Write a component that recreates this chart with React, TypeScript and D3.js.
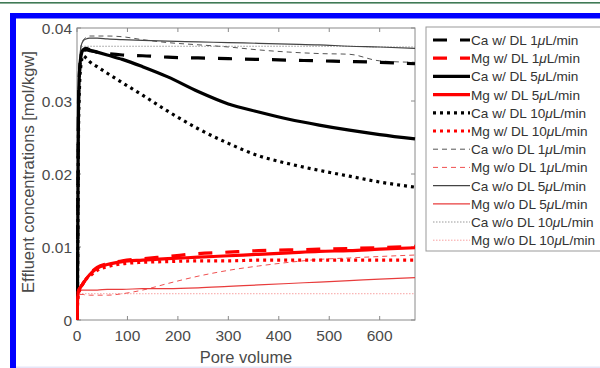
import React from "react";
import * as d3 from "d3";

const poreVolume = [0, 1, 2, 3, 5, 8, 12, 18, 25, 40, 60, 90, 130, 180, 240, 300, 360, 420, 480, 540, 600, 670];

const caDL1 = [0, 0.006, 0.02, 0.03, 0.034, 0.0362, 0.0368, 0.037, 0.0369, 0.0367, 0.0365, 0.0363, 0.0362, 0.036, 0.0359, 0.0358, 0.0357, 0.0356, 0.0355, 0.0354, 0.0353, 0.0351];
const mgDL1 = [0, 0.0025, 0.0035, 0.004, 0.0043, 0.0046, 0.005, 0.0057, 0.0063, 0.0072, 0.0077, 0.0081, 0.0084, 0.0087, 0.0091, 0.0093, 0.0095, 0.0096, 0.0097, 0.0098, 0.0099, 0.0101];
const caDL5 = [0, 0.005, 0.018, 0.029, 0.034, 0.0362, 0.037, 0.0372, 0.037, 0.0367, 0.0363, 0.0357, 0.0347, 0.0333, 0.0313, 0.0296, 0.0285, 0.0275, 0.0267, 0.026, 0.0254, 0.0248];
const mgDL5 = [0, 0.0025, 0.0035, 0.004, 0.0043, 0.0046, 0.005, 0.0056, 0.0062, 0.0071, 0.0076, 0.008, 0.0082, 0.0084, 0.0086, 0.0088, 0.009, 0.0092, 0.0094, 0.0095, 0.0097, 0.0099];
const caDL10 = [0, 0.004, 0.016, 0.026, 0.032, 0.035, 0.0362, 0.0359, 0.0354, 0.0347, 0.0338, 0.0325, 0.0308, 0.0286, 0.0262, 0.0242, 0.0225, 0.0214, 0.0205, 0.0197, 0.0189, 0.0182];
const mgDL10 = [0, 0.002, 0.003, 0.0035, 0.004, 0.0045, 0.005, 0.0056, 0.006, 0.0068, 0.0073, 0.0077, 0.0079, 0.008, 0.0081, 0.0081, 0.0082, 0.0082, 0.0082, 0.0082, 0.0082, 0.0082];
const caNoDL1 = [0, 0.006, 0.02, 0.03, 0.035, 0.0375, 0.0383, 0.0387, 0.0389, 0.0389, 0.0389, 0.0388, 0.0384, 0.038, 0.0377, 0.0374, 0.037, 0.0367, 0.0365, 0.0364, 0.0355, 0.0353];
const mgNoDL1 = [0, 0.003, 0.0034, 0.0035, 0.0035, 0.0035, 0.0035, 0.0034, 0.0034, 0.0034, 0.0034, 0.0036, 0.0041, 0.005, 0.006, 0.0068, 0.0074, 0.0079, 0.0083, 0.0085, 0.0087, 0.0089];
const caNoDL5 = [0, 0.006, 0.02, 0.03, 0.035, 0.0375, 0.0382, 0.0385, 0.0386, 0.0386, 0.0385, 0.0384, 0.0383, 0.0382, 0.0381, 0.038, 0.0379, 0.0378, 0.0377, 0.0375, 0.0374, 0.0372];
const mgNoDL5 = [0, 0.003, 0.0038, 0.004, 0.0041, 0.0041, 0.0041, 0.0041, 0.0041, 0.0041, 0.0042, 0.0042, 0.0043, 0.0043, 0.0044, 0.0046, 0.0048, 0.005, 0.0052, 0.0054, 0.0056, 0.0058];
const caNoDL10 = [0, 0.006, 0.02, 0.03, 0.035, 0.0372, 0.0375, 0.0375, 0.0375, 0.0375, 0.0375, 0.0375, 0.0375, 0.0375, 0.0375, 0.0375, 0.0375, 0.0375, 0.0375, 0.0375, 0.0374, 0.0374];
const mgNoDL10 = [0, 0.003, 0.0035, 0.0036, 0.0036, 0.0036, 0.0036, 0.0036, 0.0036, 0.0036, 0.0036, 0.0036, 0.0036, 0.0036, 0.0036, 0.0036, 0.0036, 0.0036, 0.0036, 0.0036, 0.0036, 0.0036];

const seriesNames = [
  "Ca w/ DL 1", "Mg w/ DL 1", "Ca w/ DL 5", "Mg w/ DL 5", "Ca w/ DL 10", "Mg w/ DL 10",
  "Ca w/o DL 1", "Mg w/o DL 1", "Ca w/o DL 5", "Mg w/o DL 5", "Ca w/o DL 10", "Mg w/o DL 10",
];
const seriesValues = [caDL1, mgDL1, caDL5, mgDL5, caDL10, mgDL10, caNoDL1, mgNoDL1, caNoDL5, mgNoDL5, caNoDL10, mgNoDL10];

const xTicks = [0, 100, 200, 300, 400, 500, 600];
const yTicks = [0, 0.01, 0.02, 0.03, 0.04];
const yTickLabels = ["0", "0.01", "0.02", "0.03", "0.04"];

type Style = { color: string; width: number; dash: string | null };
const styles: Style[] = [
  { color: "#000", width: 3.2, dash: "14 13" },
  { color: "#ff0000", width: 3.2, dash: "14 13" },
  { color: "#000", width: 3.2, dash: null },
  { color: "#ff0000", width: 3.2, dash: null },
  { color: "#000", width: 3.2, dash: "3 4" },
  { color: "#ff0000", width: 3.2, dash: "3 4" },
  { color: "#555", width: 1, dash: "5 4" },
  { color: "#f05050", width: 1, dash: "5 4" },
  { color: "#444", width: 1.2, dash: null },
  { color: "#e83c3c", width: 1.2, dash: null },
  { color: "#999", width: 1, dash: "1.5 1.5" },
  { color: "#f8a0a0", width: 1, dash: "1.5 1.5" },
];

const drawOrder = [10, 11, 6, 7, 8, 9, 0, 2, 4, 5, 3, 1];

export default function App() {
  const x = d3.scaleLinear().domain([0, 670]).range([77, 415]);
  const y = d3.scaleLinear().domain([0, 0.04]).range([320, 28]);
  const line = d3
    .line<number>()
    .x((_, i) => x(poreVolume[i]))
    .y((d) => y(d))
    .curve(d3.curveMonotoneX);

  const font = "Liberation Sans, Arial, sans-serif";
  const legX = 426;
  const legY0 = 40;
  const legStep = 18.2;

  return (
    <svg width={600} height={368} style={{ position: "absolute", left: 0, top: 0 }}>
      <rect x={0} y={0} width={600} height={368} fill="#fff" />
      <rect x={0} y={2} width={600} height={1.6} fill="#3f7a55" />
      <rect x={10} y={13} width={600} height={5.5} fill="#0000ff" />
      <rect x={10} y={13} width={6} height={355} fill="#0000ff" />
      <rect x={16} y={366.5} width={584} height={1.5} fill="#e6e6f8" />

      <defs>
        <clipPath id="plotclip">
          <rect x={76} y={20} width={340} height={302} />
        </clipPath>
      </defs>

      {/* axes box */}
      <rect x={77} y={28} width={338} height={292} fill="none" stroke="#8a8a8a" strokeWidth={1} />
      {xTicks.map((t) => (
        <g key={"xt" + t}>
          <line x1={x(t)} x2={x(t)} y1={320} y2={316} stroke="#8a8a8a" />
          <line x1={x(t)} x2={x(t)} y1={28} y2={32} stroke="#8a8a8a" />
          <text x={x(t)} y={341} textAnchor="middle" fontSize={15.5} fill="#4a4a4a" fontFamily={font}>
            {t}
          </text>
        </g>
      ))}
      {yTicks.map((t, i) => (
        <g key={"yt" + t}>
          <line x1={77} x2={81} y1={y(t)} y2={y(t)} stroke="#8a8a8a" />
          <line x1={415} x2={411} y1={y(t)} y2={y(t)} stroke="#8a8a8a" />
          <text x={72} y={y(t) + 5.5} textAnchor="end" fontSize={15.5} fill="#4a4a4a" fontFamily={font}>
            {yTickLabels[i]}
          </text>
        </g>
      ))}
      <text x={246} y={363} textAnchor="middle" fontSize={16.5} fill="#4a4a4a" fontFamily={font}>
        Pore volume
      </text>
      <text
        transform="translate(34,172) rotate(-90)"
        textAnchor="middle"
        fontSize={16.5}
        fill="#4a4a4a"
        fontFamily={font}
      >
        Effluent concentrations [mol/kgw]
      </text>

      <g clipPath="url(#plotclip)">
        {drawOrder.map((k) => (
          <path
            key={"s" + k}
            d={line(seriesValues[k]) || ""}
            fill="none"
            stroke={styles[k].color}
            strokeWidth={styles[k].width}
            strokeDasharray={styles[k].dash || undefined}
            strokeLinejoin="round"
          />
        ))}
      </g>

      {/* legend */}
      <rect x={legX} y={27} width={180} height={224} fill="#fff" stroke="#999" strokeWidth={1} />
      {seriesNames.map((name, i) => {
        const yy = legY0 + i * legStep;
        const s = styles[i];
        return (
          <g key={"lg" + i}>
            <line
              x1={433}
              x2={470}
              y1={yy}
              y2={yy}
              stroke={s.color}
              strokeWidth={s.width}
              strokeDasharray={s.dash || undefined}
            />
            <text x={471} y={yy + 5} fontSize={13.6} fill="#333" fontFamily={font}>
              {name}
              <tspan fontStyle="italic">μ</tspan>L/min
            </text>
          </g>
        );
      })}
    </svg>
  );
}
